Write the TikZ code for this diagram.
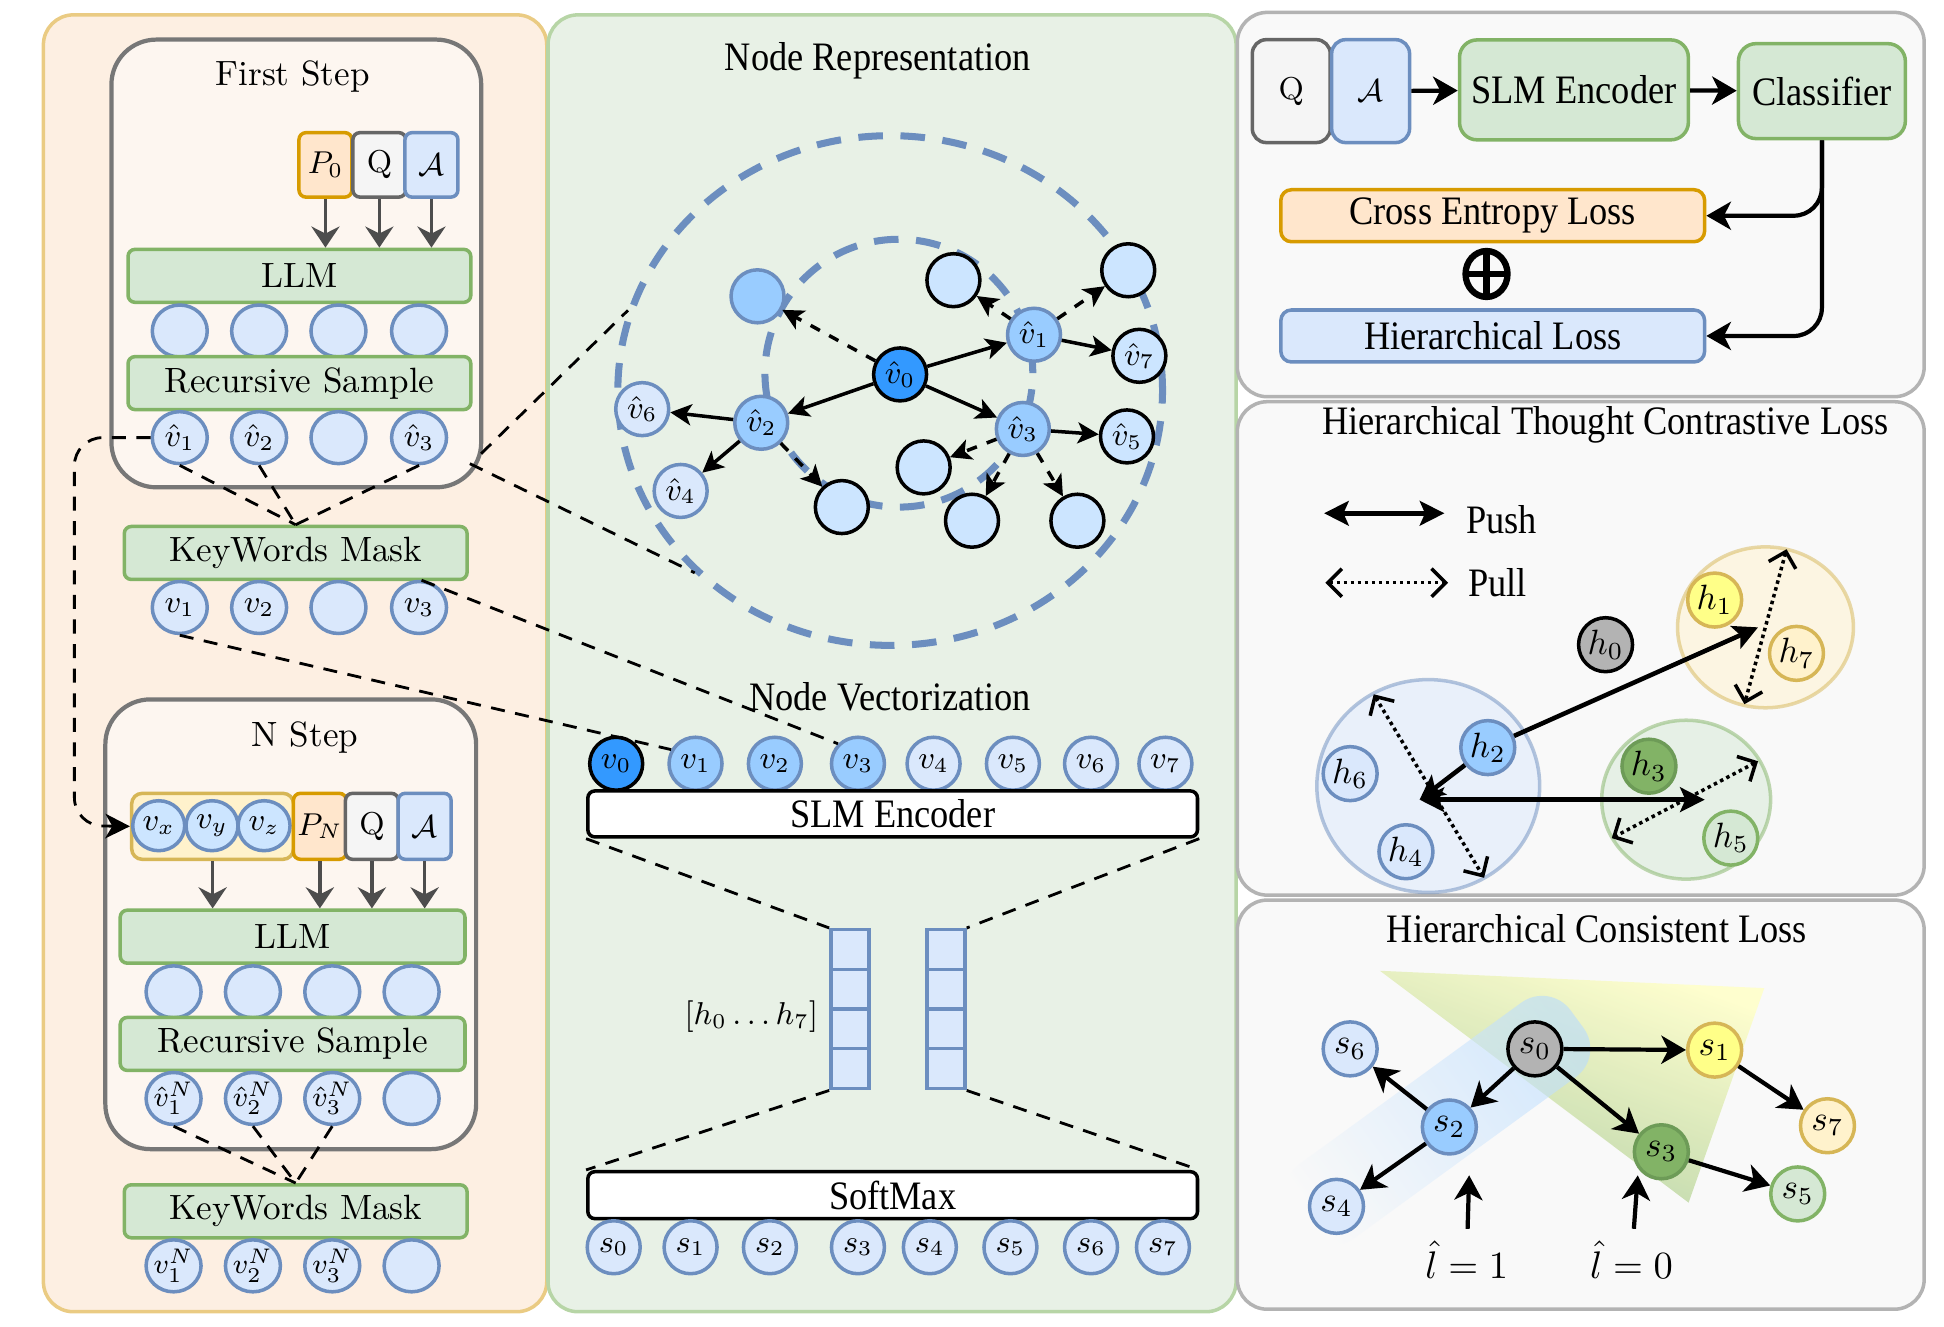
\documentclass[tikz,border=0pt]{standalone}
\usepackage{amsmath}
\usepackage{fontspec}
\newfontfamily\cond[FakeStretch=0.9]{Liberation Serif}
\usetikzlibrary{arrows.meta,shapes.geometric}

\definecolor{bluefill}{HTML}{DAE8FC}
\definecolor{blueline}{HTML}{6C8EBF}
\definecolor{bluemid}{HTML}{99CCFF}
\definecolor{bluelight}{HTML}{CCE5FF}
\definecolor{bluedark}{HTML}{3399FF}
\definecolor{greenfill}{HTML}{D5E8D4}
\definecolor{greenline}{HTML}{82B366}
\definecolor{greendark}{HTML}{6D9B57}
\definecolor{orangefill}{HTML}{FFE6CC}
\definecolor{orangeline}{HTML}{D79B00}
\definecolor{grayfill}{HTML}{F5F5F5}
\definecolor{grayline}{HTML}{666666}
\definecolor{graynode}{HTML}{B3B3B3}
\definecolor{yellowfill}{HTML}{FFF2CC}
\definecolor{yellowline}{HTML}{D6B656}
\definecolor{yellowbright}{HTML}{FFFF88}
\definecolor{orgpanel}{HTML}{FDEFE2}
\definecolor{orgline}{HTML}{EACB83}
\definecolor{stepfill}{HTML}{FDF6F0}
\definecolor{stepline}{HTML}{777777}
\definecolor{grnpanel}{HTML}{E8F1E6}
\definecolor{grnline}{HTML}{B7D5A6}
\definecolor{grypanel}{HTML}{F9F9F9}
\definecolor{gryline}{HTML}{B3B3B3}
\definecolor{arrowgray}{HTML}{4D4D4D}

\newcommand{\lmfont}{\fontsize{10}{11}\selectfont}
\newcommand{\tmfont}{\cond\fontsize{11.5}{13}\selectfont}
\newcommand{\lblfont}{\fontsize{9}{10}\selectfont}
\newcommand{\supfont}{\fontsize{8.5}{9}\selectfont}

\tikzset{
  panel/.style={line width=1pt, rounded corners=0.3cm},
  stepbox/.style={draw=stepline, fill=stepfill, line width=1.2pt, rounded corners=0.45cm},
  greenbar/.style={draw=greenline, fill=greenfill, line width=1pt, rounded corners=2pt,
    minimum width=3.43cm, minimum height=0.53cm, inner sep=0pt, font=\lmfont},
  whitebar/.style={draw=black, fill=white, line width=1pt, rounded corners=2pt,
    minimum width=6.1cm, minimum height=0.46cm, inner sep=0pt, font=\tmfont},
  tok/.style={ellipse, draw=blueline, fill=bluefill, line width=1pt,
    minimum width=0.55cm, minimum height=0.52cm, inner sep=-1.5pt, font=\lblfont},
  inbox/.style={draw, line width=1pt, rounded corners=2pt, minimum width=0.53cm,
    minimum height=0.645cm, inner sep=0pt, font=\lblfont},
  feed/.style={draw=arrowgray, line width=1pt, -{Stealth[length=6pt,width=8pt,inset=2pt]}},
  link/.style={line width=0.8pt, dash pattern=on 4pt off 3pt},
  ring/.style={draw=blueline, line width=2pt, dash pattern=on 7pt off 5pt},
  gnode/.style={circle, draw=black, fill=bluelight, line width=1pt,
    minimum size=0.53cm, inner sep=0pt, font=\lblfont},
  gnodeb/.style={gnode, draw=blueline, fill=bluemid},
  gnodel/.style={gnode, draw=blueline, fill=bluefill},
  gedge/.style={line width=1pt, -{Stealth[length=6pt,width=6pt,inset=1.5pt]}},
  vcell/.style={draw=blueline, fill=bluefill, line width=1pt, minimum width=0.38cm,
    minimum height=0.4cm, inner sep=0pt},
  gbox/.style={draw=greenline, fill=greenfill, line width=1pt, rounded corners=5pt,
    inner sep=0pt, font=\tmfont},
  lossbox/.style={draw, line width=1pt, rounded corners=3pt, minimum width=4.24cm,
    minimum height=0.52cm, inner sep=0pt, font=\tmfont},
  flow/.style={line width=1.2pt, -{Stealth[length=7pt,width=8pt,inset=2pt]}},
  push/.style={line width=1.3pt, -{Stealth[length=7pt,width=7pt,inset=1.5pt]}},
  pushboth/.style={line width=1.3pt,
    {Stealth[length=7pt,width=7pt,inset=1.5pt]}-{Stealth[length=7pt,width=7pt,inset=1.5pt]}},
  pull/.style={line width=1pt, densely dotted,
    {Straight Barb[length=4pt,width=8pt,line width=1pt]}-{Straight Barb[length=4pt,width=8pt,line width=1pt]}},
  hnode/.style={circle, line width=1pt, minimum size=0.54cm, inner sep=0pt,
    font=\fontsize{10}{11}\selectfont},
  group/.style={ellipse, line width=1pt, draw opacity=0.5, fill opacity=0.5},
  plus/.style={ellipse, draw, line width=1.8pt, minimum width=0.42cm, minimum height=0.46cm,
    path picture={\draw[line width=1.8pt] (path picture bounding box.north) -- (path picture bounding box.south)
      (path picture bounding box.west) -- (path picture bounding box.east);}}
}

\begin{document}
\begin{tikzpicture}[x=0.0124cm, y=-0.0124cm]
\useasboundingbox (0,0) rectangle (1568,1070);

% panels
\draw[panel, draw=orgline, fill=orgpanel] (35,12) rectangle (441,1058);
\draw[panel, draw=grnline, fill=grnpanel] (442,12) rectangle (997,1058);
\draw[panel, draw=gryline, fill=grypanel] (998,10) rectangle (1552,320);
\draw[panel, draw=gryline, fill=grypanel] (998,324) rectangle (1552,722);
\draw[panel, draw=gryline, fill=grypanel] (998,726) rectangle (1552,1056);

% first step
\node[stepbox, minimum width=3.7cm, minimum height=4.48cm] (first) at (239,212.5) {};
\node[font=\lmfont] (firstt) at (236,62) {First Step};
\node[inbox, draw=orangeline, fill=orangefill] (p0) at (262.5,133) {$P_0$};
\node[inbox, draw=grayline, fill=grayfill] (q1) at (306,133) {Q};
\node[inbox, draw=blueline, fill=bluefill] (a1) at (348,133) {$\mathcal{A}$};
\node[greenbar] (llm1) at (241.5,222.5) {LLM};
\draw[feed] (p0) -- (p0 |- llm1.north);
\draw[feed] (q1) -- (q1 |- llm1.north);
\draw[feed] (a1) -- (a1 |- llm1.north);
\foreach \x/\i in {145/1,209/2,273/3,338/4}
  \node[tok] (e1\i) at (\x,267) {};
\node[greenbar] (rs1) at (241.5,309) {Recursive Sample};
\foreach \x/\i/\t in {145/1/$\hat{v}_1$,209/2/$\hat{v}_2$,273/3/,338/4/$\hat{v}_3$}
  \node[tok] (r1\i) at (\x,353) {\t};
\node[greenbar] (kw1) at (238.5,446) {KeyWords Mask};
\foreach \x/\i/\t in {145/1/$v_1$,209/2/$v_2$,273/3/,338/4/$v_3$}
  \node[tok] (k1\i) at (\x,490) {\t};
\draw[link] (r11.south) -- (kw1.north);
\draw[link] (r12.south) -- (kw1.north);
\draw[link] (r14.south) -- (kw1.north);

% N step
\node[stepbox, minimum width=3.71cm, minimum height=4.5cm] (nstep) at (234.5,745.5) {};
\node[font=\lmfont] (nstept) at (246,595) {N Step};
\node[draw=yellowline, fill=yellowfill, line width=1pt, rounded corners=3pt,
  minimum width=1.62cm, minimum height=0.66cm] (vbox) at (171.5,666.5) {};
\node[tok, fill=bluelight, minimum width=0.52cm, minimum height=0.5cm] (vx) at (128,666) {$v_x$};
\node[tok, fill=bluelight, minimum width=0.52cm, minimum height=0.5cm] (vy) at (171,666) {$v_y$};
\node[tok, fill=bluelight, minimum width=0.52cm, minimum height=0.5cm] (vz) at (213,666) {$v_z$};
\node[inbox, draw=orangeline, fill=orangefill, minimum height=0.66cm] (pn) at (258,666.5) {$P_N$};
\node[inbox, draw=grayline, fill=grayfill, minimum height=0.66cm] (q3) at (300,666.5) {Q};
\node[inbox, draw=blueline, fill=bluefill, minimum height=0.66cm] (a3) at (342.5,666.5) {$\mathcal{A}$};
\node[greenbar, minimum width=3.45cm] (llm2) at (236,755.5) {LLM};
\draw[feed] (vbox) -- (vbox |- llm2.north);
\draw[feed] (pn) -- (pn |- llm2.north);
\draw[feed] (q3) -- (q3 |- llm2.north);
\draw[feed] (a3) -- (a3 |- llm2.north);
\foreach \x/\i in {140/1,204/2,268/3,332/4}
  \node[tok] (e2\i) at (\x,800) {};
\node[greenbar, minimum width=3.45cm] (rs2) at (236,842) {Recursive Sample};
\foreach \x/\i/\t in {140/1/$\hat{v}_1^N$,204/2/$\hat{v}_2^N$,268/3/$\hat{v}_3^N$,332/4/}
  \node[tok, font=\supfont] (r2\i) at (\x,886) {\t};
\node[greenbar] (kw2) at (238.5,977) {KeyWords Mask};
\foreach \x/\i/\t in {140/1/$v_1^N$,204/2/$v_2^N$,268/3/$v_3^N$,332/4/}
  \node[tok, font=\supfont] (k2\i) at (\x,1021) {\t};
\draw[link] (r21.south) -- (kw2.north);
\draw[link] (r22.south) -- (kw2.north);
\draw[link] (r23.south) -- (kw2.north);
\draw[link, rounded corners=8pt, -{Stealth[length=7pt,width=7pt,inset=2pt]}]
  (r11.west) -- (60,353) -- (60,666) -- (vbox.west);

% node representation
\node[font=\tmfont] (nrt) at (708,49) {Node Representation};
\node[ellipse, ring, minimum width=5.45cm, minimum height=5.1cm] (outer) at (718,315) {};
\node[circle, ring, minimum size=2.68cm] (inner) at (725,301) {};
\node[gnode, fill=bluedark] (g0) at (726,302) {$\hat{v}_0$};
\node[gnodeb] (g1) at (834,270) {$\hat{v}_1$};
\node[gnodeb] (g2) at (614,341) {$\hat{v}_2$};
\node[gnodeb] (g3) at (825,346) {$\hat{v}_3$};
\node[gnodel] (g6) at (518,330) {$\hat{v}_6$};
\node[gnodel] (g4) at (549,396) {$\hat{v}_4$};
\node[gnode] (g7) at (919,287) {$\hat{v}_7$};
\node[gnode] (g5) at (909,352) {$\hat{v}_5$};
\node[gnodeb] (b0) at (611,239) {};
\node[gnode] (b1) at (769,226) {};
\node[gnode] (b2) at (910,218) {};
\node[gnode] (b3) at (745,377) {};
\node[gnode] (b4) at (679,409) {};
\node[gnode] (b5) at (784,420) {};
\node[gnode] (b6) at (869,420) {};
\draw[gedge] (g0) -- (g1);
\draw[gedge] (g0) -- (g2);
\draw[gedge] (g0) -- (g3);
\draw[gedge] (g1) -- (g7);
\draw[gedge] (g2) -- (g6);
\draw[gedge] (g2) -- (g4);
\draw[gedge] (g3) -- (g5);
\draw[gedge, dashed] (g0) -- (b0);
\draw[gedge, dashed] (g1) -- (b1);
\draw[gedge, dashed] (g1) -- (b2);
\draw[gedge, dashed] (g2) -- (b4);
\draw[gedge, dashed] (g3) -- (b3);
\draw[gedge, dashed] (g3) -- (b5);
\draw[gedge, dashed] (g3) -- (b6);

% node vectorization
\node[font=\tmfont] (nvt) at (718,562) {Node Vectorization};
\node[gnode, fill=bluedark] (nv0) at (497,616) {$v_0$};
\foreach \x/\i in {561/1,625/2,692/3}
  \node[gnodeb] (nv\i) at (\x,616) {$v_\i$};
\foreach \x/\i in {753/4,817/5,880/6,940/7}
  \node[gnodel] (nv\i) at (\x,616) {$v_\i$};
\node[whitebar] (slm) at (720,656.5) {SLM Encoder};
\foreach \i/\y in {1/766,2/798,3/830,4/862} {
  \node[vcell] (cl\i) at (685.5,\y) {};
  \node[vcell] (cr\i) at (763,\y) {};
}
\node[font=\lblfont] (hlab) at (606,820) {$[h_0\ldots h_7]$};
\node[whitebar, minimum height=0.47cm] (sm) at (720,964) {SoftMax};
\foreach \x/\i in {495/0,557/1,621/2,692/3,750/4,815/5,880/6,938/7}
  \node[gnodel] (s\i) at (\x,1006) {$s_\i$};
\draw[link] (slm.south west) -- (cl1.north west);
\draw[link] (slm.south east) -- (cr1.north east);
\draw[link] (cl4.south west) -- (sm.north west);
\draw[link] (cr4.south east) -- (sm.north east);

% zoom links between panels
\coordinate (z1) at (388,366);
\coordinate (z2) at (379,374);
\coordinate (kwr) at (340,468);
\draw[link] (z1) -- (outer.163);
\draw[link] (z2) -- (outer.223);
\draw[link] (kwr) -- (nv3.135);
\draw[link] (k11.south) -- (nv1.150);

% training objective
\node[draw=grayline, fill=grayfill, line width=1pt, rounded corners=4pt, minimum width=0.78cm,
  minimum height=1.03cm, inner sep=0pt, font=\lblfont] (q2) at (1041.5,73.5) {Q};
\node[draw=blueline, fill=bluefill, line width=1pt, rounded corners=4pt, minimum width=0.78cm,
  minimum height=1.03cm, inner sep=0pt, font=\lblfont] (a2) at (1105.5,73.5) {$\mathcal{A}$};
\node[gbox, minimum width=2.29cm, minimum height=1.0cm] (slm2) at (1269.5,72.5) {SLM Encoder};
\node[gbox, minimum width=1.67cm, minimum height=0.95cm] (cls) at (1469.5,73.5) {Classifier};
\draw[flow] (a2) -- (slm2);
\draw[flow] (slm2) -- (cls);
\node[lossbox, draw=orangeline, fill=orangefill] (ce) at (1204,174) {Cross Entropy Loss};
\node[plus] (plus) at (1199,221) {};
\node[lossbox, draw=blueline, fill=bluefill] (hl) at (1204,271) {Hierarchical Loss};
\draw[flow, rounded corners=8pt] (cls.south) |- (ce.east);
\draw[flow, rounded corners=8pt] (cls.south) |- (hl.east);

% contrastive loss
\node[font=\tmfont] (hct) at (1295,343) {Hierarchical Thought Contrastive Loss};
\coordinate (psa) at (1068,414);
\coordinate (psb) at (1165,414);
\coordinate (pla) at (1069,470);
\coordinate (plb) at (1168,470);
\draw[pushboth] (psa) -- (psb);
\draw[pull] (pla) -- (plb);
\node[font=\tmfont] (pusht) at (1211,419) {Push};
\node[font=\tmfont] (pullt) at (1208,470) {Pull};
\node[group, draw=blueline, fill=bluefill, minimum width=2.23cm, minimum height=2.13cm] (grpB) at (1152,634) {};
\node[group, draw=yellowline, fill=yellowfill, minimum width=1.76cm, minimum height=1.61cm] (grpY) at (1424,506) {};
\node[group, draw=greenline, fill=greenfill, minimum width=1.69cm, minimum height=1.59cm] (grpG) at (1360,645) {};
\node[hnode, draw=black, fill=graynode] (h0) at (1295,520) {$h_0$};
\node[hnode, draw=yellowline, fill=yellowbright] (h1) at (1383,484) {$h_1$};
\node[hnode, draw=yellowline, fill=yellowfill] (h7) at (1449,527) {$h_7$};
\node[hnode, draw=blueline, fill=bluemid] (h2) at (1200,603) {$h_2$};
\node[hnode, draw=blueline, fill=bluefill] (h6) at (1089,624) {$h_6$};
\node[hnode, draw=blueline, fill=bluefill] (h4) at (1134,687) {$h_4$};
\node[hnode, draw=greendark, fill=greenline] (h3) at (1330,618) {$h_3$};
\node[hnode, draw=greenline, fill=greenfill] (h5) at (1396,676) {$h_5$};
\coordinate (pY) at (1418,506);
\coordinate (pB) at (1145,645);
\coordinate (pG) at (1375,645);
\draw[push] (h2) -- (pY);
\draw[push] (h2) -- (pB);
\draw[pushboth] (pB) -- (pG);
\coordinate (uB1) at (1108,560);
\coordinate (uB2) at (1197,708);
\coordinate (uY1) at (1441,443);
\coordinate (uY2) at (1407,568);
\coordinate (uG1) at (1418,614);
\coordinate (uG2) at (1300,676);
\draw[pull] (uB1) -- (uB2);
\draw[pull] (uY1) -- (uY2);
\draw[pull] (uG1) -- (uG2);

% consistent loss
\node[font=\tmfont] (hcl) at (1288,749) {Hierarchical Consistent Loss};
\shade[top color=yellow!22, bottom color=greenline!65, shading angle=-20, opacity=0.85]
  (1113,783) -- (1423,797) -- (1362,970) -- cycle;
\shade[top color=bluemid!70, bottom color=grypanel, shading angle=-54, opacity=0.6, rounded corners=10pt]
  (1026,955) -- (1250,792) -- (1294,852) -- (1070,1015) -- cycle;
\node[hnode, draw=black, fill=graynode] (t0) at (1238,846) {$s_0$};
\node[hnode, draw=yellowline, fill=yellowbright] (t1) at (1383,847) {$s_1$};
\node[hnode, draw=blueline, fill=bluefill] (t6) at (1089,846) {$s_6$};
\node[hnode, draw=blueline, fill=bluemid] (t2) at (1169,909) {$s_2$};
\node[hnode, draw=greendark, fill=greenline] (t3) at (1340,929) {$s_3$};
\node[hnode, draw=yellowline, fill=yellowfill] (t7) at (1474,908) {$s_7$};
\node[hnode, draw=blueline, fill=bluefill] (t4) at (1078,973) {$s_4$};
\node[hnode, draw=greenline, fill=greenfill] (t5) at (1450,963) {$s_5$};
\draw[flow] (t0) -- (t1);
\draw[flow] (t0) -- (t2);
\draw[flow] (t0) -- (t3);
\draw[flow] (t1) -- (t7);
\draw[flow] (t2) -- (t6);
\draw[flow] (t2) -- (t4);
\draw[flow] (t3) -- (t5);
\node[font=\fontsize{11}{12}\selectfont] (l1) at (1183,1016) {$\hat{l}=1$};
\node[font=\fontsize{11}{12}\selectfont] (l0) at (1316,1016) {$\hat{l}=0$};
\coordinate (l1t) at (1185,948);
\coordinate (l0t) at (1321,948);
\draw[flow] (l1) -- (l1t);
\draw[flow] (l0) -- (l0t);
\end{tikzpicture}
\end{document}
